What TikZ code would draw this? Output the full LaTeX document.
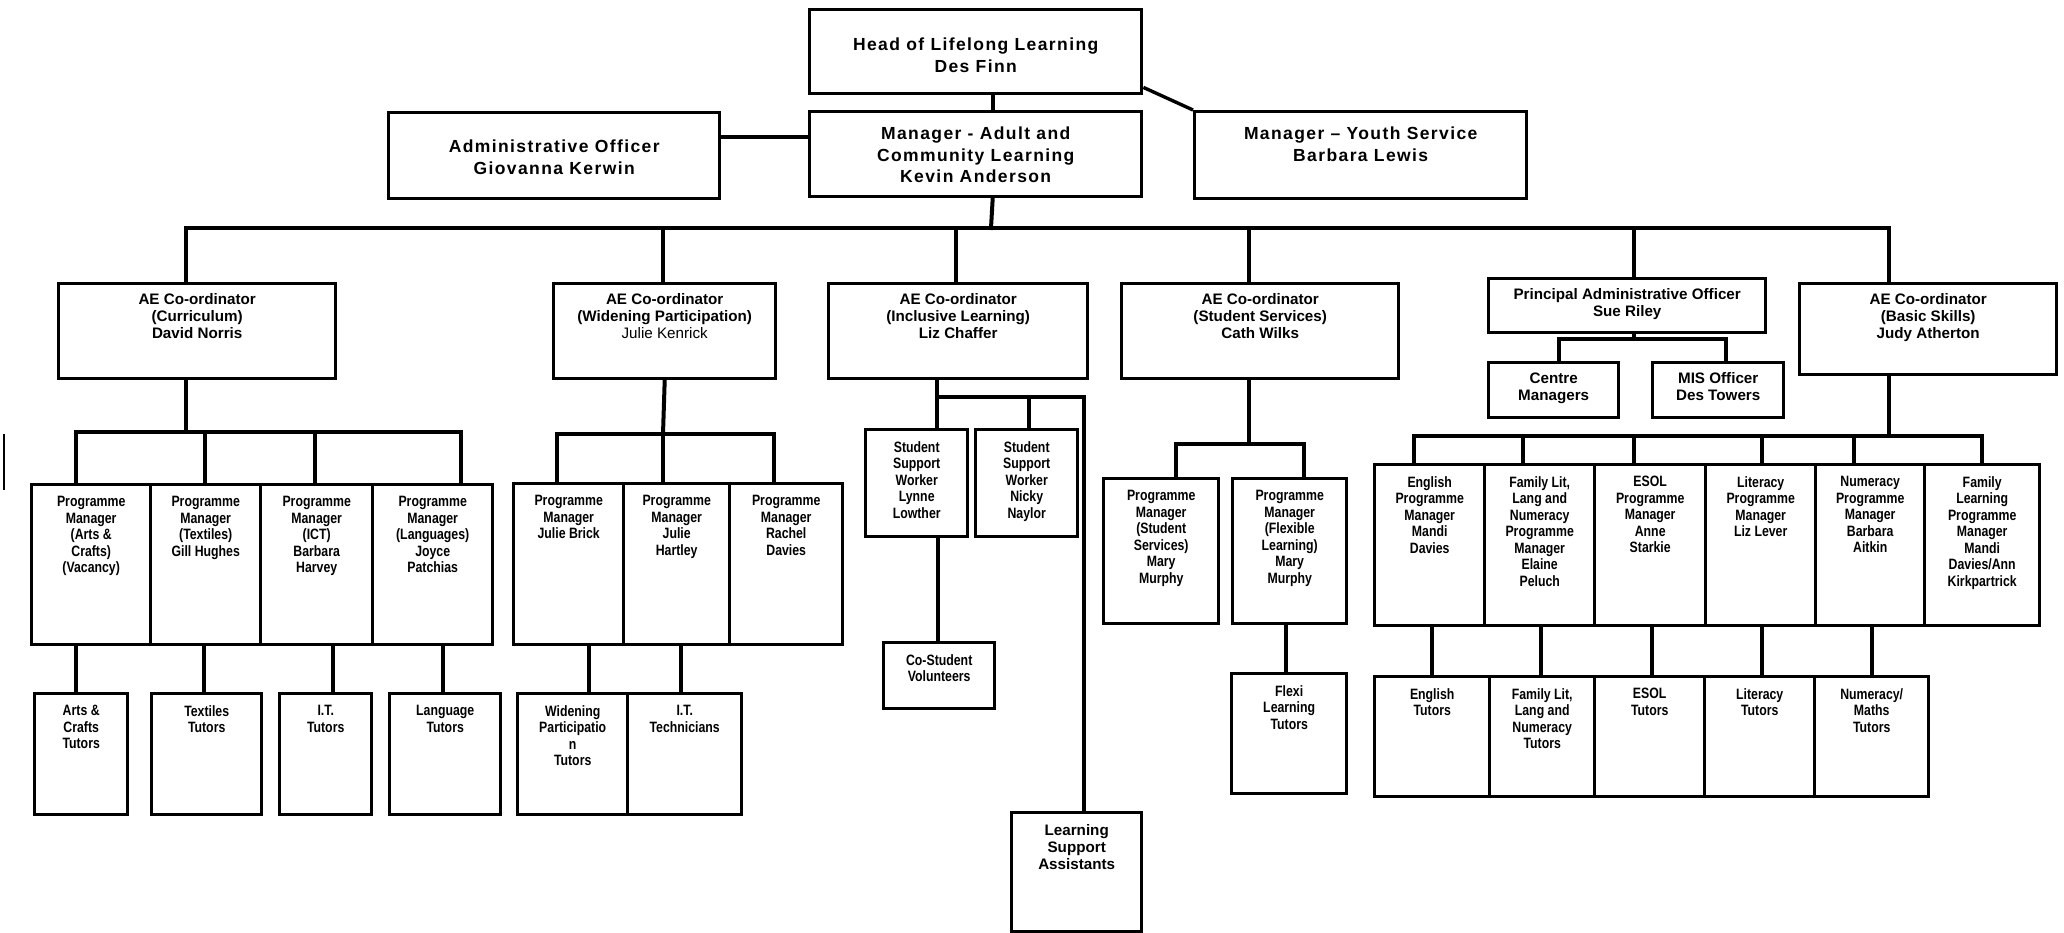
\documentclass[tikz,border=0pt]{standalone}
\usepackage{fontspec}
\setmainfont{Liberation Sans}
\newfontfamily\topfont[LetterSpace=8]{Liberation Sans}
\newfontfamily\narrowfont[FakeStretch=0.82]{Liberation Sans}
\usepackage{tikz}

\begin{document}
\begin{tikzpicture}[x=1pt,y=-1pt,
  box/.style 2 args={draw,line width=3.4pt,inner sep=0pt,anchor=north west,minimum width=#1,minimum height=#2},
  link/.style={line width=4pt,line cap=rect},
  toptext/.style={anchor=north,align=center,inner sep=0pt,font=\topfont\bfseries\fontsize{17.5}{21.7}\selectfont},
  midtext/.style={anchor=north,align=center,inner sep=0pt,yshift=-11.4pt,font=\bfseries\fontsize{15.2}{17}\selectfont},
  lowtext/.style={anchor=north,align=center,inner sep=0pt,yshift=-13pt,font=\narrowfont\bfseries\fontsize{15}{16.5}\selectfont}]
\useasboundingbox (0,0) rectangle (2064,932);

\node[box={332}{84},label={[toptext,yshift=-29.5pt]north:Head of Lifelong Learning\\Des Finn}] (head) at (808,8) {};
\node[box={332}{85},label={[toptext,yshift=-16.5pt]north:Manager - Adult and\\Community Learning\\Kevin Anderson}] (mgr) at (808,110) {};
\node[box={331}{86},label={[toptext,yshift=-28.5pt]north:Administrative Officer\\Giovanna Kerwin}] (admin) at (387,111) {};
\node[box={332}{87},label={[toptext,yshift=-16.5pt]north:Manager – Youth Service\\Barbara Lewis}] (youth) at (1193,110) {};

\node[box={277}{95},label={[midtext]north:AE Co-ordinator\\(Curriculum)\\David Norris}] (cur) at (57,282) {};
\node[box={222}{95},label={[midtext]north:AE Co-ordinator\\(Widening Participation)\\{\mdseries Julie Kenrick}}] (wid) at (552,282) {};
\node[box={259}{95},label={[midtext]north:AE Co-ordinator\\(Inclusive Learning)\\Liz Chaffer}] (inc) at (827,282) {};
\node[box={277}{95},label={[midtext]north:AE Co-ordinator\\(Student Services)\\Cath Wilks}] (stu) at (1120,282) {};
\node[box={277}{54},label={[midtext]north:Principal Administrative Officer\\Sue Riley}] (pao) at (1487,277) {};
\node[box={257}{91},label={[midtext]north:AE Co-ordinator\\(Basic Skills)\\Judy Atherton}] (bas) at (1798,282) {};
\node[box={130}{55},label={[midtext]north:Centre\\Managers}] (cm) at (1487,361) {};
\node[box={131}{55},label={[midtext]north:MIS Officer\\Des Towers}] (mis) at (1651,361) {};

\node[box={119}{160},label={[lowtext]north:Programme\\Manager\\(Arts \&\\Crafts)\\(Vacancy)}] (pma) at (30,483) {};
\node[box={110}{160},label={[lowtext]north:Programme\\Manager\\(Textiles)\\Gill Hughes}] (pmt) at (149,483) {};
\node[box={112}{160},label={[lowtext]north:Programme\\Manager\\(ICT)\\Barbara\\Harvey}] (pmi) at (259,483) {};
\node[box={120}{160},label={[lowtext]north:Programme\\Manager\\(Languages)\\Joyce\\Patchias}] (pml) at (371,483) {};
\node[box={93}{121},label={[lowtext]north:Arts \&\\Crafts\\Tutors}] (tua) at (33,692) {};
\node[box={110}{121},label={[lowtext]north:Textiles\\Tutors}] (tut) at (150,692) {};
\node[box={92}{121},label={[lowtext]north:I.T.\\Tutors}] (tui) at (278,692) {};
\node[box={111}{121},label={[lowtext]north:Language\\Tutors}] (tul) at (388,692) {};

\node[box={110}{161},label={[lowtext]north:Programme\\Manager\\Julie Brick}] (pmb) at (512,482) {};
\node[box={106}{161},label={[lowtext]north:Programme\\Manager\\Julie\\Hartley}] (pmh) at (622,482) {};
\node[box={113}{161},label={[lowtext]north:Programme\\Manager\\Rachel\\Davies}] (pmr) at (728,482) {};
\node[box={110}{121},label={[lowtext]north:Widening\\Participatio\\n\\Tutors}] (tuw) at (516,692) {};
\node[box={114}{121},label={[lowtext]north:I.T.\\Technicians}] (tuit) at (626,692) {};

\node[box={102}{107},label={[lowtext]north:Student\\Support\\Worker\\Lynne\\Lowther}] (ssl) at (864,428) {};
\node[box={102}{107},label={[lowtext]north:Student\\Support\\Worker\\Nicky\\Naylor}] (ssn) at (974,428) {};
\node[box={111}{66},label={[lowtext]north:Co-Student\\Volunteers}] (csv) at (882,641) {};
\node[box={130}{119},label={[midtext,yshift=-2pt]north:Learning\\Support\\Assistants}] (lsa) at (1010,811) {};

\node[box={115}{145},label={[lowtext]north:Programme\\Manager\\(Student\\Services)\\Mary\\Murphy}] (pms) at (1102,477) {};
\node[box={114}{145},label={[lowtext]north:Programme\\Manager\\(Flexible\\Learning)\\Mary\\Murphy}] (pmf) at (1231,477) {};
\node[box={115}{120},label={[lowtext]north:Flexi\\Learning\\Tutors}] (flx) at (1230,672) {};

\node[box={110}{161},label={[lowtext]north:English\\Programme\\Manager\\Mandi\\Davies}] (pme) at (1373,463) {};
\node[box={110}{161},label={[lowtext]north:{Family Lit,\\Lang and\\Numeracy\\Programme\\Manager\\Elaine\\Peluch}}] (pmfl) at (1483,463) {};
\node[box={111}{161},label={[lowtext]north:ESOL\\Programme\\Manager\\Anne\\Starkie}] (pmes) at (1593,463) {};
\node[box={110}{161},label={[lowtext]north:Literacy\\Programme\\Manager\\Liz Lever}] (pmli) at (1704,463) {};
\node[box={109}{161},label={[lowtext]north:Numeracy\\Programme\\Manager\\Barbara\\Aitkin}] (pmnu) at (1814,463) {};
\node[box={115}{161},label={[lowtext]north:Family\\Learning\\Programme\\Manager\\Mandi\\Davies/Ann\\Kirkpartrick}] (pmfa) at (1923,463) {};
\node[box={115}{120},label={[lowtext]north:English\\Tutors}] (tue) at (1373,675) {};
\node[box={105}{120},label={[lowtext]north:{Family Lit,\\Lang and\\Numeracy\\Tutors}}] (tufl) at (1488,675) {};
\node[box={110}{120},label={[lowtext]north:ESOL\\Tutors}] (tues) at (1593,675) {};
\node[box={110}{120},label={[lowtext]north:Literacy\\Tutors}] (tuli) at (1703,675) {};
\node[box={114}{120},label={[lowtext]north:Numeracy/\\Maths\\Tutors}] (tunu) at (1813,675) {};

\draw[link] ([xshift=17pt]head.south) -- ([xshift=17pt]mgr.north);
\draw[link] ([yshift=19pt]admin.east) -- ([yshift=19pt]admin.east -| mgr.west);
\draw[line width=3.4pt] ([yshift=8pt]head.south east) -- (youth.north west);

\coordinate (bus) at (991,228);
\draw[link] ([xshift=17pt]mgr.south) -- (bus);
\draw[link] (186,228) -- (1889,228);
\foreach \x/\n in {186/cur,663/wid,956/inc,1249/stu,1634/pao,1889/bas}
  \draw[link] (\x,228) -- (\n.north -| \x,0);

\draw[link] (cur.south -| 186,0) -- (186,432);
\draw[link] (76,432) -- (461,432);
\foreach \x/\n in {76/pma,205/pmt,315/pmi,461/pml}
  \draw[link] (\x,432) -- (\n.north -| \x,0);
\foreach \x/\a/\b in {76/pma/tua,204/pmt/tut,333/pmi/tui,443/pml/tul}
  \draw[link] (\a.south -| \x,0) -- (\b.north -| \x,0);
\draw[line width=2pt] (4,434) -- (4,490);

\draw[link] (wid.south) -- (663,434);
\draw[link] (557,434) -- (774,434);
\foreach \x/\n in {557/pmb,663/pmh,774/pmr}
  \draw[link] (\x,434) -- (\n.north -| \x,0);
\foreach \x/\a/\b in {589/pmb/tuw,681/pmh/tuit}
  \draw[link] (\a.south -| \x,0) -- (\b.north -| \x,0);

\draw[link] (inc.south -| 937,0) -- (937,397) -- (1084,397) -- (lsa.north -| 1084,0);
\draw[link] (937,397) -- (ssl.north -| 937,0);
\draw[link] (1029,397) -- (ssn.north -| 1029,0);
\draw[link] (ssl.south -| 938,0) -- (csv.north -| 938,0);

\draw[link] (stu.south -| 1249,0) -- (1249,444);
\draw[link] (1176,444) -- (1304,444);
\foreach \x/\n in {1176/pms,1304/pmf}
  \draw[link] (\x,444) -- (\n.north -| \x,0);
\draw[link] (pmf.south -| 1286,0) -- (flx.north -| 1286,0);

\draw[link] (pao.south -| 1634,0) -- (1634,339);
\draw[link] (1559,339) -- (1726,339);
\foreach \x/\n in {1559/cm,1726/mis}
  \draw[link] (\x,339) -- (\n.north -| \x,0);

\draw[link] (bas.south -| 1889,0) -- (1889,436);
\draw[link] (1414,436) -- (1982,436);
\foreach \x/\n in {1414/pme,1523/pmfl,1634/pmes,1762/pmli,1854/pmnu,1982/pmfa}
  \draw[link] (\x,436) -- (\n.north -| \x,0);
\foreach \x/\a/\b in {1432/pme/tue,1541/pmfl/tufl,1652/pmes/tues,1762/pmli/tuli,1872/pmnu/tunu}
  \draw[link] (\a.south -| \x,0) -- (\b.north -| \x,0);
\end{tikzpicture}
\end{document}
